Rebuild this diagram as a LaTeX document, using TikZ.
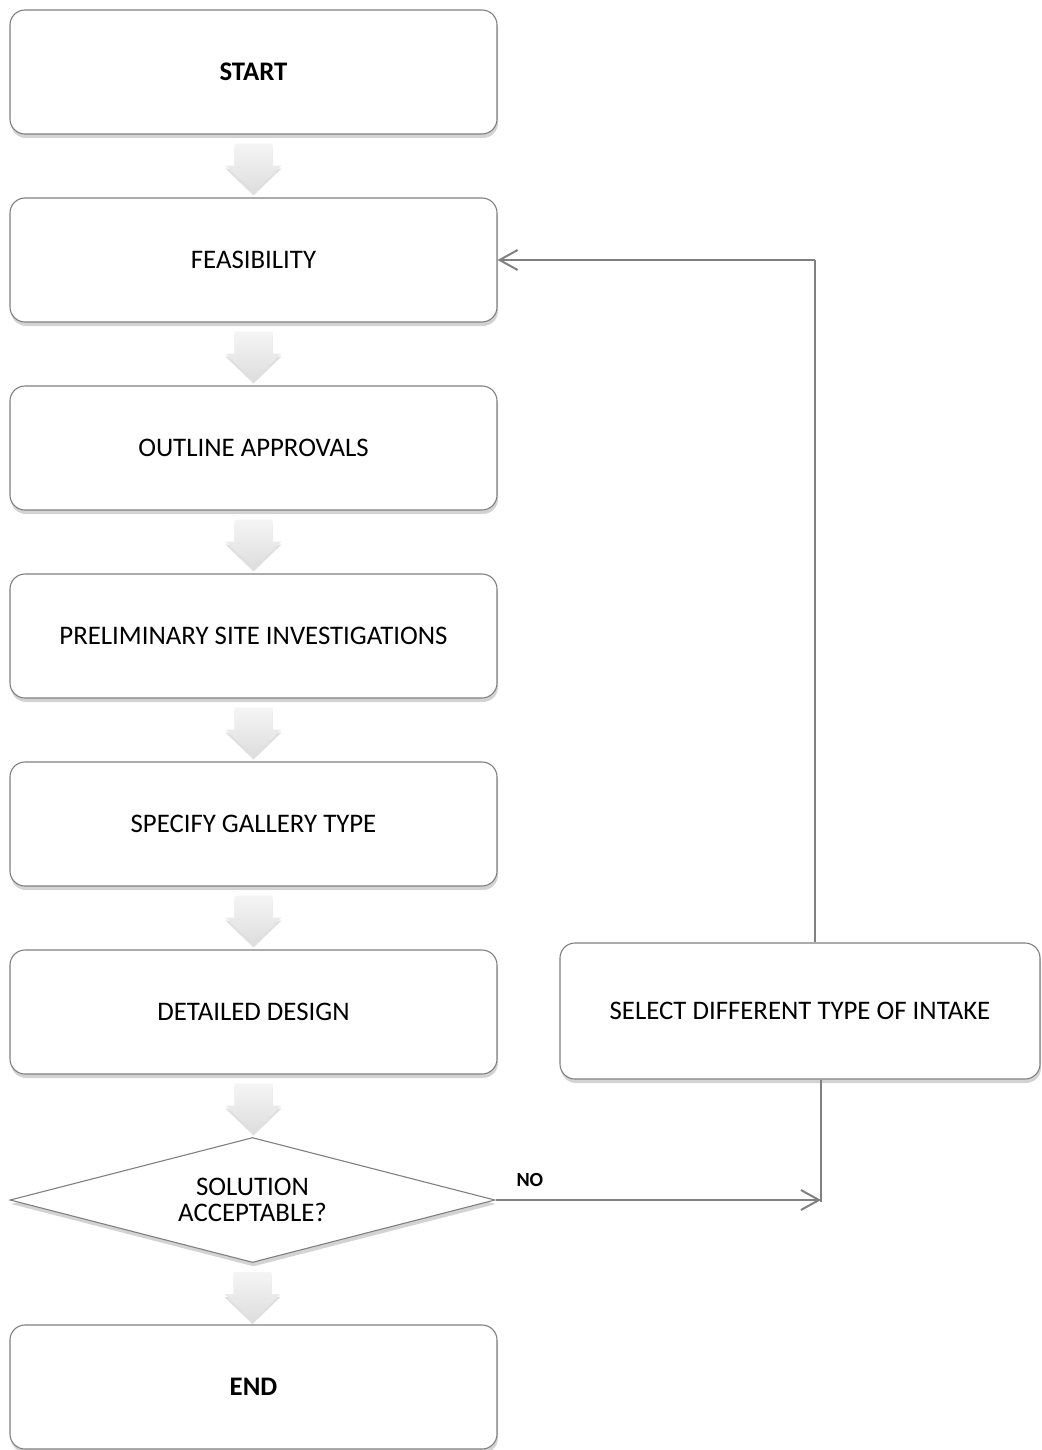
\documentclass[tikz,border=0pt]{standalone}
\usepackage{fontspec}
\setmainfont{Carlito}
\usetikzlibrary{shapes.geometric,arrows.meta,shadows,calc}
\definecolor{edge}{RGB}{128,128,128}
\tikzset{
  procbox/.style={draw=edge, line width=1.1pt, rounded corners=15pt, fill=white,
    minimum width=487pt, minimum height=124pt, inner sep=0pt, font=\fontsize{26.8}{31}\selectfont,
    drop shadow={shadow xshift=1pt, shadow yshift=-4pt, opacity=0.35, fill=gray}},
  decbox/.style={draw=edge, line width=1.1pt, diamond, aspect=3.88, fill=white,
    minimum width=485pt, minimum height=125pt, inner sep=0pt, align=center,
    font=\fontsize{26.8}{26}\selectfont,
    drop shadow={shadow xshift=1pt, shadow yshift=-4pt, opacity=0.35, fill=gray}},
  link/.style={draw=edge, line width=2pt},
  tip/.style={-{Straight Barb[length=18pt,width=20pt,line width=2pt]}},
  blockarr/.style={top color=gray!8, bottom color=gray!26, draw=none,
    drop shadow={shadow xshift=0pt, shadow yshift=-3pt, opacity=0.25, fill=gray}}
}
\newcommand{\downblock}[1]{%
  \path[blockarr] ($(#1.south)+(-19,9)$) -- ($(#1.south)+(19,9)$) -- ($(#1.south)+(19,31)$)
    -- ($(#1.south)+(28,31)$) -- ($(#1.south)+(0,58)$) -- ($(#1.south)+(-28,31)$)
    -- ($(#1.south)+(-19,31)$) -- cycle;}
\begin{document}
\begin{tikzpicture}[x=1pt,y=-1pt]
\useasboundingbox (0,0) rectangle (1041,1450);
\node[procbox] (start) at (253.5,72) {\textbf{START}};
\node[procbox] (feas) at (253.5,260) {FEASIBILITY};
\node[procbox] (outl) at (253.5,448) {OUTLINE APPROVALS};
\node[procbox] (prel) at (253.5,636) {PRELIMINARY SITE INVESTIGATIONS};
\node[procbox] (spec) at (253.5,824) {SPECIFY GALLERY TYPE};
\node[procbox] (detl) at (253.5,1012) {DETAILED DESIGN};
\node[decbox] (dec) at (252.5,1200) {SOLUTION\\ACCEPTABLE?};
\node[procbox] (fin) at (253.5,1387) {\textbf{END}};
\node[procbox, minimum width=480pt, minimum height=136pt] (sel) at (800,1011) {SELECT DIFFERENT TYPE OF INTAKE};
\downblock{start}
\downblock{feas}
\downblock{outl}
\downblock{prel}
\downblock{spec}
\downblock{detl}
\downblock{dec}
\coordinate (up) at (815,260);
\coordinate (nohit) at (821,1200);
\draw[link] (sel.north -| up) -- (up);
\draw[link, tip] (up) -- (feas.east);
\draw[link, tip] (dec.east) -- (nohit);
\draw[link, line width=1.4pt] (sel.south -| nohit) -- ($(nohit)+(0,2)$);
\node[font=\fontsize{20}{24}\selectfont\bfseries, anchor=south west] (no) at (513,1190) {NO};
\end{tikzpicture}
\end{document}
